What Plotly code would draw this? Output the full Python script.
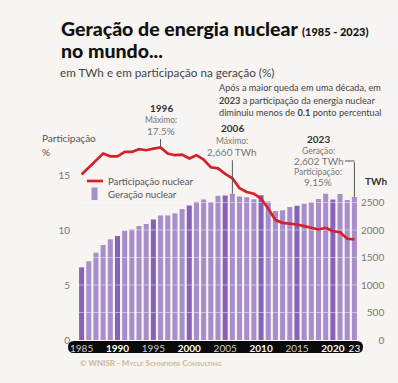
import plotly.graph_objects as go

years = list(range(1985, 2024))
generation_twh = [1321, 1430, 1588, 1727, 1830, 1891, 1987, 2011, 2072, 2109,
                  2192, 2265, 2265, 2301, 2381, 2446, 2513, 2555, 2508, 2622,
                  2626, 2660, 2608, 2597, 2560, 2630, 2518, 2346, 2359, 2417,
                  2441, 2476, 2503, 2563, 2657, 2553, 2653, 2545, 2602]
share_pct = [15.05, 15.7, 16.35, 16.95, 16.7, 16.7, 17.1, 17.1, 17.35, 17.25,
             17.4, 17.5, 16.95, 16.8, 16.85, 16.5, 16.8, 16.4, 15.7, 15.6,
             15.1, 14.7, 13.8, 13.45, 13.3, 12.85, 11.95, 10.9, 10.65, 10.6,
             10.5, 10.35, 10.2, 10.05, 10.2, 9.9, 9.8, 9.2, 9.15]
x_tickvals = [1985, 1990, 1995, 2000, 2005, 2010, 2015, 2020, 2023]
x_ticktext = ["1985", "1990", "1995", "2000", "2005", "2010", "2015", "2020", "23"]
x_tickbold = [False, True, False, True, False, True, False, True, False]
twh_ticks = [0, 500, 1000, 1500, 2000, 2500]
pct_ticks = [0, 5, 10, 15]

W, H = 398, 383
L, R, T, B = 78, 40, 131, 43
PW, PH = W - L - R, H - T - B


def pxx(x):
    return (x - L) / PW


def pyy(y):
    return (H - B - y) / PH


BG = "#f7f4f2"
LIGHT = "#a78dca"
DARK = "#8862b4"
RED = "#d4212a"
FONT = "Lato"

bar_colors = [DARK if y % 5 == 0 else LIGHT for y in years]

fig = go.Figure()
fig.add_trace(go.Bar(x=years, y=generation_twh, name="Geração nuclear",
                     marker=dict(color=bar_colors, line=dict(width=0)),
                     yaxis="y", showlegend=False, hoverinfo="x+y"))
# white gridlines over bars
for v in twh_ticks[1:]:
    fig.add_trace(go.Scatter(x=[years[0] - 0.5, years[-1] + 0.5], y=[v, v], mode="lines",
                             line=dict(color="rgba(255,255,255,0.45)", width=1),
                             yaxis="y", showlegend=False, hoverinfo="skip"))
fig.add_trace(go.Scatter(x=years, y=share_pct, name="Participação nuclear", mode="lines",
                         line=dict(color=RED, width=2.7), yaxis="y2", showlegend=False))

ttext = []
for t, b in zip(x_ticktext, x_tickbold):
    if b:
        ttext.append("<b>" + t + "</b>")
    elif t == "23":
        ttext.append(t)
    else:
        ttext.append("<span style='color:#cfcfcf'>" + t + "</span>")

FS = "\u2007"
twh_text = [FS * (4 - len(str(v))) + str(v) for v in twh_ticks]

fig.update_layout(
    width=W, height=H,
    margin=dict(l=L, r=R, t=T, b=B, pad=0),
    paper_bgcolor=BG, plot_bgcolor=BG,
    font=dict(family=FONT, color="#777777", size=10),
    bargap=0.3,
    showlegend=False,
    xaxis=dict(range=[years[0] - 0.5, years[-1] + 0.5], tickmode="array",
               tickvals=x_tickvals, ticktext=ttext, showgrid=False, zeroline=False,
               showline=False, ticks="", tickfont=dict(color="white", size=10, family=FONT),
               ticklabelstandoff=1),
    yaxis=dict(side="right", range=[0, 19 * 200], tickmode="array", tickvals=twh_ticks,
               ticktext=twh_text, showgrid=False, zeroline=False, showline=False, ticks="",
               tickfont=dict(color="#777777", size=10, family=FONT), ticklabelstandoff=2),
    yaxis2=dict(side="left", overlaying="y", range=[0, 19], tickmode="array",
                tickvals=pct_ticks, showgrid=False, zeroline=False, showline=False,
                ticks="", tickfont=dict(color="#777777", size=10, family=FONT),
                ticklabelstandoff=7),
)

# black pill behind x tick labels
x0, x1 = pxx(68), pxx(363)
yt, yb = pyy(341), pyy(353)
rx = 6 / PW
ym = (yt + yb) / 2
path = (f"M {x0 + rx},{yt} L {x1 - rx},{yt} Q {x1},{yt} {x1},{ym} Q {x1},{yb} {x1 - rx},{yb} "
        f"L {x0 + rx},{yb} Q {x0},{yb} {x0},{ym} Q {x0},{yt} {x0 + rx},{yt} Z")
shapes = [dict(type="path", path=path, xref="paper", yref="paper",
               fillcolor="#0a0a0a", line=dict(width=0), layer="below")]

# manual legend
shapes.append(dict(type="line", xref="paper", yref="paper", x0=pxx(87), x1=pxx(103),
                   y0=pyy(181), y1=pyy(181), line=dict(color=RED, width=2.7)))
shapes.append(dict(type="rect", xref="paper", yref="paper", x0=pxx(91.5), x1=pxx(97.5),
                   y0=pyy(187.5), y1=pyy(200), fillcolor=LIGHT, line=dict(width=0)))
# 2023 elbow horizontal segment
shapes.append(dict(type="line", xref="paper", yref="paper", x0=pxx(345), x1=pxx(354.5),
                   y0=pyy(161), y1=pyy(161), line=dict(color="#555555", width=1)))

anns = []


def txt(x, y, text, size=10, color="#777777", anchor="center", weight=None, family=FONT, variant=None):
    f = dict(size=size, color=color, family=family)
    if weight:
        f["weight"] = weight
    if variant:
        f["variant"] = variant
    anns.append(dict(x=pxx(x), y=pyy(y), xref="paper", yref="paper", text=text,
                     showarrow=False, xanchor=anchor, yanchor="middle", font=f))


txt(59, 29, "Geração de energia nuclear <span style='font-size:11px'>(1985 - 2023)</span>",
    size=19.5, color="#111111", anchor="left", weight=900)
txt(59, 50.5, "no mundo...", size=19.5, color="#111111", anchor="left", weight=900)
txt(58, 72, "em TWh e em participação na geração (%)", size=11.7, color="#444444", anchor="left")

txt(217, 88, "Após a maior queda em uma década, em", size=9.2, color="#444444", anchor="left")
txt(217, 100, "<b>2023</b> a participação da energia nuclear", size=9.2, color="#444444", anchor="left")
txt(217, 112, "diminuiu menos de <b>0.1</b> ponto percentual", size=9.2, color="#444444", anchor="left")

txt(161, 108, "<b>1996</b>", size=10, color="#333333")
txt(161, 120, "Máximo:", size=8.5)
txt(161, 131, "17.5%", size=10)

txt(232, 128, "<b>2006</b>", size=10, color="#333333")
txt(232, 141, "Máximo:", size=8.5)
txt(232, 152, "2,660 TWh", size=10)

txt(318, 139, "<b>2023</b>", size=10, color="#333333")
txt(318, 151, "Geração:", size=8.5)
txt(319, 161, "2,602 TWh", size=10)
txt(318, 172, "Participação:", size=8.5)
txt(318, 182, "9.15%", size=10)

txt(376, 181, "<b>TWh</b>", size=10, color="#333333")
txt(40, 138, "Participação", size=10, color="#555555", anchor="left")
txt(40, 152, "%", size=10, color="#555555", anchor="left")

txt(106, 181, "Participação nuclear", size=9.6, color="#555555", anchor="left")
txt(106, 194, "Geração nuclear", size=9.6, color="#555555", anchor="left")

txt(78, 363, "<b>© WNISR - Mycle Schneider Consulting</b>", size=8, color="#cbb994",
    anchor="left", variant="small-caps")

# leader lines (arrows with empty text pointing to data)
i96 = years.index(1996)
i06 = years.index(2006)
i23 = years.index(2023)
anns.append(dict(x=years[i96], y=share_pct[i96], xref="x", yref="y2", text="", showarrow=True,
                 arrowhead=0, arrowwidth=1, arrowcolor="#555555", ax=0, ay=-10))
anns.append(dict(x=years[i06], y=generation_twh[i06], xref="x", yref="y", text="", showarrow=True,
                 arrowhead=0, arrowwidth=1, arrowcolor="#555555", ax=0, ay=-35))
anns.append(dict(x=years[i23], y=generation_twh[i23], xref="x", yref="y", text="", showarrow=True,
                 arrowhead=0, arrowwidth=1, arrowcolor="#555555", ax=0, ay=-36))

fig.update_layout(shapes=shapes, annotations=anns)
fig.write_html("out.html", config={"displayModeBar": False},
               post_script="document.body.style.margin='0';document.body.style.overflow='hidden';")
